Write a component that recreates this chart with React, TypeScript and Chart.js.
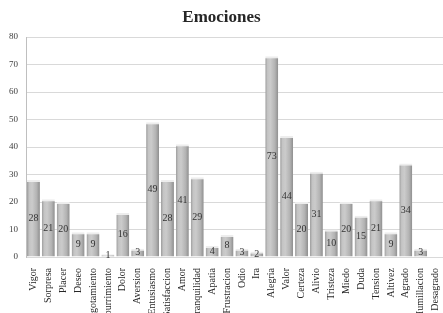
import React, { useEffect, useRef } from "react";
import { Chart, registerables } from "chart.js";

Chart.register(...registerables);

const categories = [
  "Vigor", "Sorpresa", "Placer", "Deseo", "Agotamiento", "Aburrimiento", "Dolor", "Aversion",
  "Entusiasmo", "Satisfaccion", "Amor", "Tranquilidad", "Apatia", "Frustracion", "Odio", "Ira",
  "Alegria", "Valor", "Certeza", "Alivio", "Tristeza", "Miedo", "Duda", "Tension", "Altivez",
  "Agrado", "Humillacion", "Desagrado",
];
const values = [28, 21, 20, 9, 9, 1, 16, 3, 49, 28, 41, 29, 4, 8, 3, 2, 73, 44, 20, 31, 10, 20, 15, 21, 9, 34, 3, 0];
const titleText = "Emociones";
const yMin = 0;
const yMax = 80;
const yStep = 10;

const FONT = "'Liberation Serif', 'DejaVu Serif', serif";

const barStyle = {
  id: "barStyle",
  beforeDatasetsDraw(chart: any) {
    const ctx = chart.ctx;
    const meta = chart.getDatasetMeta(0);
    meta.data.forEach((el: any) => {
      const w = el.width;
      const g = ctx.createLinearGradient(el.x - w / 2, 0, el.x + w / 2, 0);
      g.addColorStop(0, "#9c9c9c");
      g.addColorStop(0.18, "#c4c4c4");
      g.addColorStop(0.4, "#cbcbcb");
      g.addColorStop(0.75, "#b3b3b3");
      g.addColorStop(1, "#8e8e8e");
      el.options.backgroundColor = g;
    });
  },
};

const valueLabels = {
  id: "valueLabels",
  afterDatasetsDraw(chart: any) {
    const ctx = chart.ctx;
    const meta = chart.getDatasetMeta(0);
    ctx.save();
    ctx.font = `10px ${FONT}`;
    ctx.fillStyle = "#333333";
    ctx.textAlign = "center";
    ctx.textBaseline = "middle";
    meta.data.forEach((el: any, i: number) => {
      const v = values[i];
      if (!v) return;
      const y = (el.y + el.base) / 2;
      ctx.fillText(String(v), el.x, Math.max(y, el.y + 1));
    });
    ctx.restore();
  },
};

export default function App() {
  const ref = useRef<HTMLCanvasElement>(null);
  useEffect(() => {
    document.body.style.margin = "0";
    const chart = new Chart(ref.current!, {
      type: "bar",
      data: {
        labels: categories,
        datasets: [
          {
            data: values,
            backgroundColor: () => "#b8b8b8",
            borderColor: "#ededed",
            borderWidth: { top: 2, left: 0, right: 0, bottom: 0 },
            borderSkipped: "bottom",
            categoryPercentage: 1,
            barPercentage: 0.87,
          },
        ],
      },
      options: {
        animation: false,
        responsive: false,
        maintainAspectRatio: false,
        layout: { padding: { left: 0, right: 0, top: 0, bottom: 0 } },
        plugins: {
          legend: { display: false },
          tooltip: { enabled: false },
          title: {
            display: true,
            text: titleText,
            color: "#262626",
            font: { family: FONT, size: 17, weight: "bold" },
            padding: { top: 7, bottom: 9.6 },
          },
        },
        scales: {
          x: {
            grid: { display: false },
            border: { display: false },
            ticks: {
              color: "#262626",
              font: { family: FONT, size: 10 },
              maxRotation: 90,
              minRotation: 90,
              autoSkip: false,
              padding: 3,
            },
            afterFit(scale: any) {
              scale.height = 56;
              scale.paddingLeft = 0;
              scale.paddingRight = 0;
            },
          },
          y: {
            min: yMin,
            max: yMax,
            grid: { color: "#d9d9d9", drawTicks: false },
            border: { color: "#bfbfbf" },
            ticks: {
              stepSize: yStep,
              color: "#404040",
              font: { family: FONT, size: 9 },
              padding: 8,
            },
            afterFit(scale: any) {
              scale.width = 26;
              scale.paddingTop = 0;
              scale.paddingBottom = 0;
            },
          },
        },
      },
      plugins: [barStyle, valueLabels],
    });
    return () => chart.destroy();
  }, []);
  return <canvas ref={ref} width={443} height={313} style={{ display: "block" }} />;
}
